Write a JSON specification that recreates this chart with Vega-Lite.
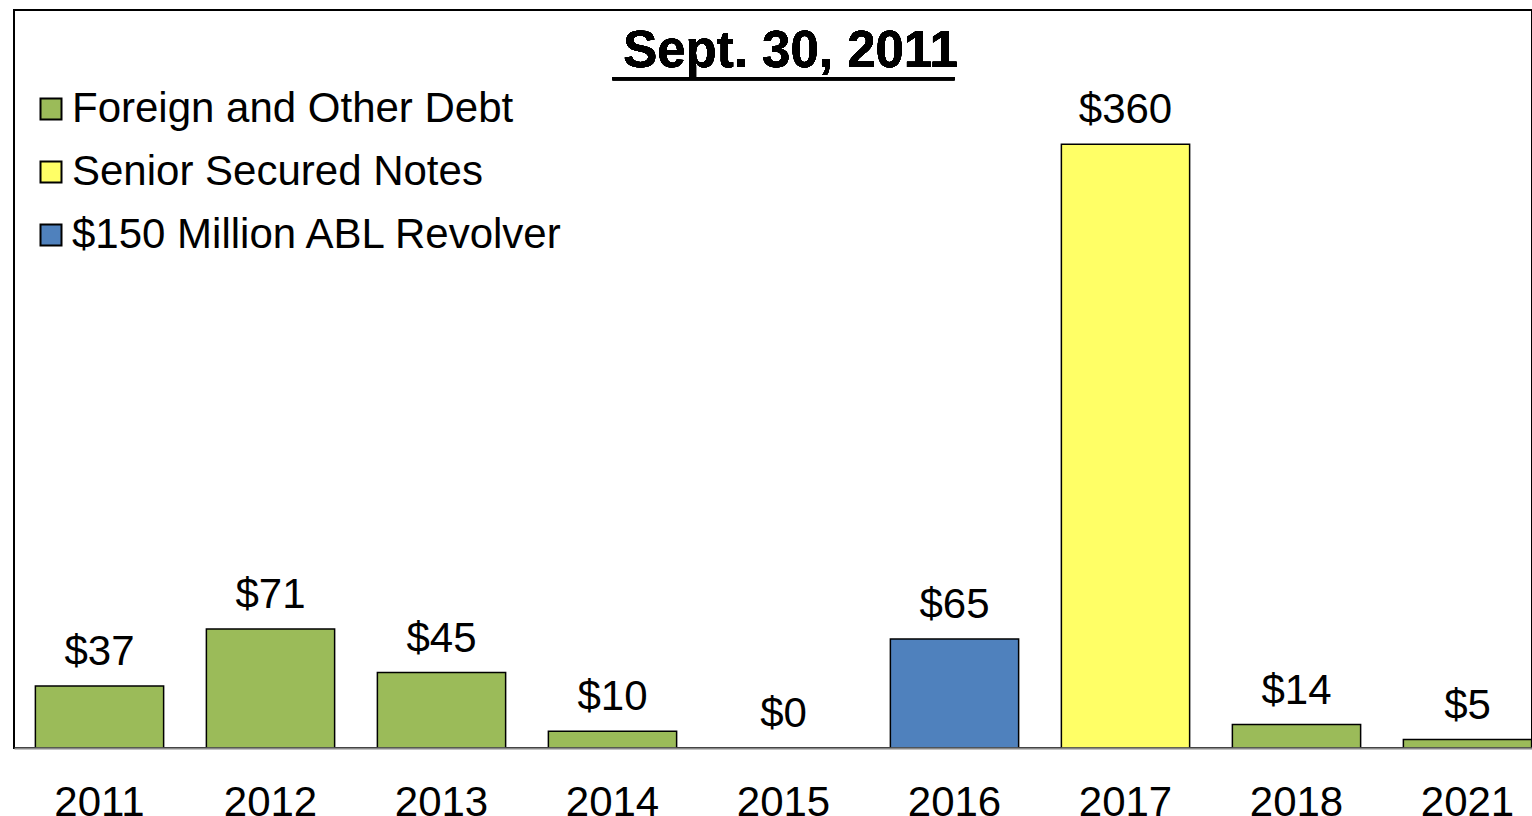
{
  "$schema": "https://vega.github.io/schema/vega-lite/v6.json",
  "width": 1518,
  "height": 738,
  "autosize": {"type": "none"},
  "padding": {"left": 14, "top": 10, "right": 0, "bottom": 68},
  "background": "white",
  "config": {
    "font": "Liberation Sans",
    "view": {"stroke": "black", "strokeWidth": 2}
  },
  "data": {
    "values": [
      {"year": "2011", "amount": 37, "series": "Foreign and Other Debt"},
      {"year": "2012", "amount": 71, "series": "Foreign and Other Debt"},
      {"year": "2013", "amount": 45, "series": "Foreign and Other Debt"},
      {"year": "2014", "amount": 10, "series": "Foreign and Other Debt"},
      {"year": "2015", "amount": 0, "series": "Foreign and Other Debt"},
      {"year": "2016", "amount": 65, "series": "$150 Million ABL Revolver"},
      {"year": "2017", "amount": 360, "series": "Senior Secured Notes"},
      {"year": "2018", "amount": 14, "series": "Foreign and Other Debt"},
      {"year": "2021", "amount": 5, "series": "Foreign and Other Debt"}
    ]
  },
  "encoding": {
    "x": {
      "field": "year",
      "type": "nominal",
      "sort": null,
      "scale": {"range": [0, 1539], "paddingInner": 0.25, "paddingOuter": 0.125},
      "axis": {
        "title": null,
        "labelAngle": 0,
        "labelFontSize": 42,
        "labelColor": "black",
        "ticks": false,
        "labelPadding": 34,
        "domainColor": "#888888",
        "domainWidth": 2,
        "zindex": 1
      }
    },
    "y": {
      "field": "amount",
      "type": "quantitative",
      "scale": {"domain": [0, 440]},
      "axis": null
    }
  },
  "layer": [
    {
      "mark": {"type": "bar", "stroke": "black", "strokeWidth": 1.5},
      "encoding": {
        "fill": {
          "field": "series",
          "type": "nominal",
          "scale": {
            "domain": ["Foreign and Other Debt", "Senior Secured Notes", "$150 Million ABL Revolver"],
            "range": ["#9BBB59", "#FFFF66", "#4F81BD"]
          },
          "legend": {
            "orient": "none",
            "legendX": 16,
            "legendY": 78,
            "title": null,
            "labelFontSize": 42,
            "labelColor": "black",
            "labelLimit": 0,
            "symbolType": "square",
            "symbolSize": 441,
            "symbolStrokeColor": "black",
            "symbolStrokeWidth": 2,
            "rowPadding": 21,
            "labelOffset": 0
          }
        }
      }
    },
    {
      "mark": {"type": "text", "fontSize": 42, "dy": -21, "baseline": "alphabetic", "color": "black"},
      "encoding": {
        "text": {"field": "amount", "type": "quantitative", "format": "$.0f"}
      }
    },
    {
      "mark": {"type": "text", "fontSize": 51, "fontWeight": "bold", "baseline": "alphabetic", "align": "center", "color": "black", "dx": 7},
      "encoding": {
        "x": {"datum": "2015"},
        "y": {"datum": 406},
        "text": {"value": "Sept. 30, 2011"}
      }
    },
    {
      "mark": {"type": "rule", "strokeWidth": 3, "color": "black"},
      "encoding": {
        "x": {"datum": "2014"},
        "x2": {"datum": "2016"},
        "y": {"datum": 399}
      }
    }
  ]
}
